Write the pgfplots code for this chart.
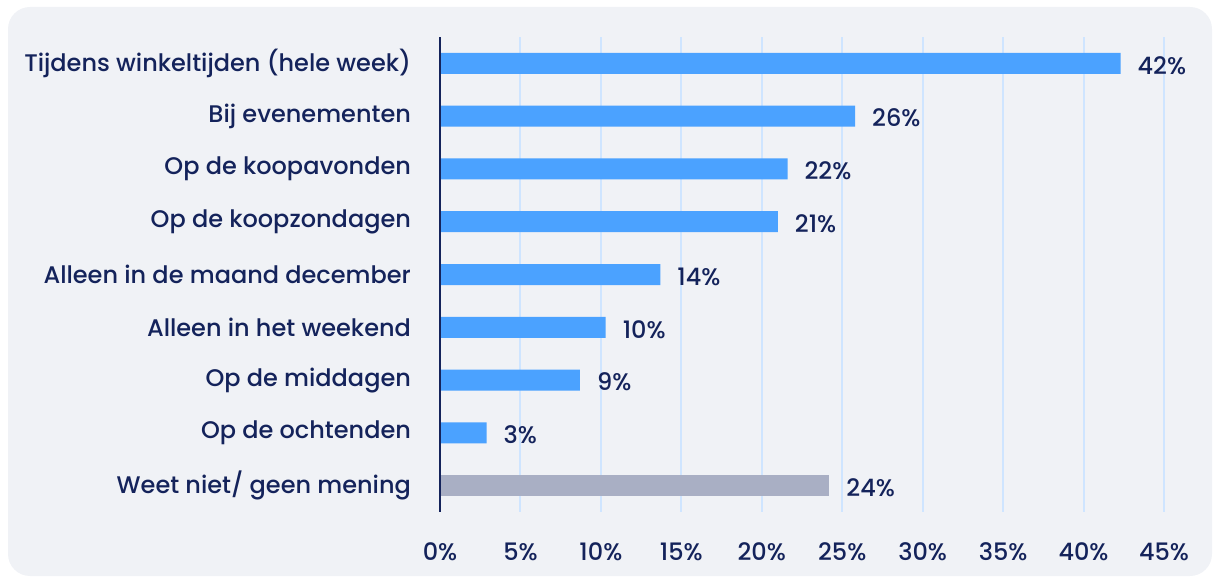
\documentclass[border=0pt]{standalone}
\usepackage{pgfplots}
\pgfplotsset{compat=1.18}
\usepackage{fontspec}
\setmainfont{Poppins}[UprightFont={* Medium}]
\definecolor{navy}{HTML}{14235B}
\definecolor{barblue}{HTML}{4BA2FF}
\definecolor{bargray}{HTML}{A9AFC4}
\definecolor{bgc}{HTML}{F0F2F6}
\definecolor{gridc}{HTML}{CFE5FF}
\begin{document}
\begin{tikzpicture}
\useasboundingbox (0pt,0pt) rectangle (607pt,289pt);
\fill[bgc, rounded corners=11pt] (4pt,1pt) rectangle (606pt,285.5pt);
\begin{axis}[
  at={(220pt,33pt)}, anchor=south west,
  scale only axis, width=362pt, height=237.5pt,
  xmin=0, xmax=45, ymin=-0.5, ymax=8.5,
  y dir=reverse,
  xbar, bar width=10.5pt, bar shift=0pt,
  axis line style={draw=none},
  major tick length=0pt,
  xtick={0,5,...,45},
  xticklabels={0\%,5\%,10\%,15\%,20\%,25\%,30\%,35\%,40\%,45\%},
  ytick={0,...,8},
  yticklabels={Tijdens winkeltijden (hele week),Bij evenementen,Op de koopavonden,Op de koopzondagen,Alleen in de maand december,Alleen in het weekend,Op de middagen,Op de ochtenden,Weet niet/ geen mening},
  xmajorgrids, major grid style={gridc, line width=1pt},
  tick label style={font=\fontsize{12}{14}\selectfont, text=navy},
  xticklabel style={yshift=-12pt},
  yticklabel style={xshift=-11pt},
  nodes near coords,
  point meta=explicit symbolic,
  nodes near coords style={font=\fontsize{12}{14}\selectfont, text=navy, anchor=west, xshift=5pt, yshift=-1pt},
  clip=false,
]
\addplot[fill=barblue, draw=none] coordinates {
  (42.3,0) [42\%]
  (25.8,1) [26\%]
  (21.6,2) [22\%]
  (21.0,3) [21\%]
  (13.7,4) [14\%]
  (10.3,5) [10\%]
  (8.7,6) [9\%]
  (2.9,7) [3\%]
};
\addplot[fill=bargray, draw=none] coordinates {
  (24.2,8) [24\%]
};
\draw[navy, line width=1.1pt] (axis cs:0,-0.5) -- (axis cs:0,8.5);
\end{axis}
\end{tikzpicture}
\end{document}
